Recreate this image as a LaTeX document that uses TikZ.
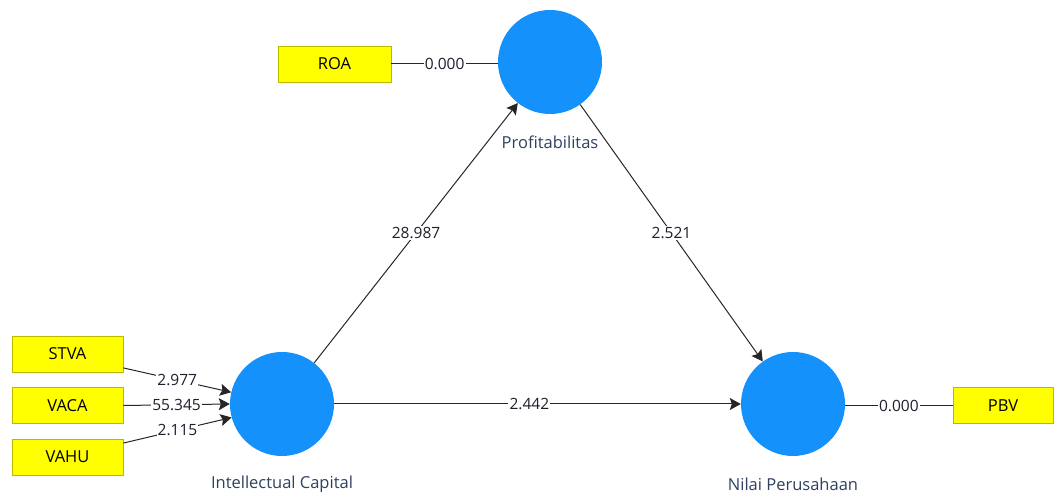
\documentclass[tikz,border=0pt]{standalone}
\usepackage{fontspec}
\setmainfont{Open Sans}
\usetikzlibrary{arrows.meta}
\definecolor{lvblue}{RGB}{20,145,250}
\definecolor{indyellow}{RGB}{255,255,0}
\definecolor{indborder}{RGB}{185,185,0}
\definecolor{lvtext}{RGB}{45,65,95}
\definecolor{edgetext}{RGB}{30,30,45}
\begin{document}
\begin{tikzpicture}[x=1pt,y=1pt,
  latent/.style={circle,fill=lvblue,draw=none,minimum size=104pt,inner sep=0pt},
  indicator/.style={rectangle,fill=indyellow,draw=indborder,line width=0.8pt,minimum width=111pt,minimum height=36pt,inner sep=0pt,font=\fontsize{16.5}{18}\selectfont,text=black},
  lvlabel/.style={font=\fontsize{16.5}{18}\selectfont,text=lvtext},
  link/.style={draw=black!85,line width=1pt},
  path/.style={link,-{Stealth[length=11pt,width=12pt,inset=2pt]}},
  coef/.style={fill=white,inner sep=1.2pt,font=\fontsize{15.5}{17}\selectfont,text=edgetext}]
\useasboundingbox (0,0) rectangle (1054,494);
% latent variables
\node[latent] (PR) at (550,432) {};
\node[latent] (IC) at (282,90) {};
\node[latent] (NP) at (793,90) {};
\node[lvlabel] (PRl) at (550,352) {Profitabilitas};
\node[lvlabel] (ICl) at (282,10) {Intellectual Capital};
\node[lvlabel] (NPl) at (793,10) {Nilai Perusahaan};
% indicators
\node[indicator,minimum width=113pt] (ROA) at (334.5,430) {ROA};
\node[indicator] (STVA) at (67.5,140) {STVA};
\node[indicator] (VACA) at (67.5,88.5) {VACA};
\node[indicator] (VAHU) at (67.5,37) {VAHU};
\node[indicator,minimum width=100pt] (PBV) at (1003,88.5) {PBV};
% measurement links
\draw[link] (ROA.east) -- (PR.west |- ROA.east) node[coef,midway] {0.000};
\draw[link] (NP.east |- PBV.west) -- (PBV.west) node[coef,midway] {0.000};
\draw[path] (STVA.-14) -- (IC.167) node[coef,midway] {2.977};
\draw[path] (VACA.east) -- (IC.180) node[coef,midway] {55.345};
\draw[path] (VAHU.14) -- (IC.195) node[coef,midway] {2.115};
% structural paths
\draw[path] (IC) -- (PR) node[coef,midway] {28.987};
\draw[path] (PR) -- (NP) node[coef,midway] {2.521};
\draw[path] (IC) -- (NP) node[coef,pos=0.48] {2.442};
\end{tikzpicture}
\end{document}
